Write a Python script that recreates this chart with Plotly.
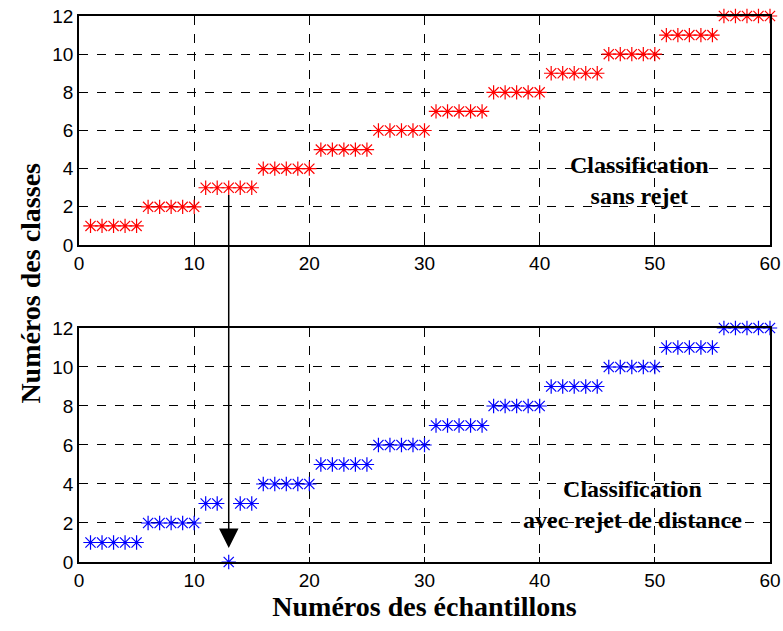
import plotly.graph_objects as go
from plotly.subplots import make_subplots

# sample numbers and assigned classes
echantillons = list(range(1, 61))
classes_sans_rejet = [1]*5 + [2]*5 + [3]*5 + [4]*5 + [5]*5 + [6]*5 + \
    [7]*5 + [8]*5 + [9]*5 + [10]*5 + [11]*5 + [12]*5
classes_avec_rejet = [1]*5 + [2]*5 + [3, 3, 0, 3, 3] + [4]*5 + [5]*5 + [6]*5 + \
    [7]*5 + [8]*5 + [9]*5 + [10]*5 + [11]*5 + [12]*5

x_ticks = [0, 10, 20, 30, 40, 50, 60]
y_ticks = [0, 2, 4, 6, 8, 10, 12]

fig = make_subplots(rows=2, cols=1)

fig.add_trace(go.Scatter(x=echantillons, y=classes_sans_rejet, mode='markers',
                         cliponaxis=False,
                         marker=dict(symbol='asterisk-open', size=12, color='#ff0000',
                                     line=dict(color='#ff0000', width=1.2)),
                         showlegend=False), row=1, col=1)
fig.add_trace(go.Scatter(x=echantillons, y=classes_avec_rejet, mode='markers',
                         cliponaxis=False,
                         marker=dict(symbol='asterisk-open', size=12, color='#0000ff',
                                     line=dict(color='#0000ff', width=1.2)),
                         showlegend=False), row=2, col=1)

tick_font = dict(family='Liberation Sans, Arial', size=19, color='black')
axis_style = dict(showline=True, linecolor='black', linewidth=1.5, mirror=True,
                  ticks='inside', ticklen=5, tickcolor='black', automargin=False,
                  showgrid=True, gridcolor='black', griddash='dash', gridwidth=0.8,
                  zeroline=False, tickfont=tick_font)

fig.update_xaxes(range=[0, 60], tickvals=x_ticks, **axis_style)
fig.update_yaxes(range=[0, 12], tickvals=y_ticks, **axis_style)

fig.update_layout(
    width=783, height=631,
    margin=dict(l=79, r=13, t=16, b=69, autoexpand=False),
    plot_bgcolor='white', paper_bgcolor='white',
    xaxis=dict(domain=[0, 1]),
    yaxis=dict(domain=[0.5806, 1]),
    xaxis2=dict(domain=[0, 1]),
    yaxis2=dict(domain=[0, 0.4286]),
)

title_font = dict(family='Liberation Serif, Times New Roman', size=28, color='black')
fig.update_xaxes(title=dict(text='<b>Numéros des échantillons</b>', font=title_font,
                            standoff=2), row=2, col=1)

serif = dict(family='Liberation Serif, Times New Roman', size=24, color='black')
fig.add_annotation(x=48.7, y=3.4, xref='x', yref='y', showarrow=False,
                   text='<b>Classification<br>sans rejet</b>', font=serif)
fig.add_annotation(x=48.1, y=2.97, xref='x2', yref='y2', showarrow=False,
                   text='<b>Classification<br>avec rejet de distance</b>', font=serif)
fig.add_annotation(x=-0.07, y=0.511, xref='paper', yref='paper', showarrow=False,
                   xanchor='center', yanchor='middle',
                   text='<b>Numéros des classes</b>', textangle=-90, font=title_font)

# arrow from the top plot to the rejected sample
fig.add_annotation(x=13, y=0.72, xref='x2', yref='y2', axref='x2', ayref='y2',
                   ax=13, ay=18.9, text='', showarrow=True,
                   arrowhead=2, arrowsize=2.6, arrowwidth=1.5, arrowcolor='black')

# drop the default page margin so the figure fills the window
fig.write_html('out.html', config={'displayModeBar': False},
               post_script="document.body.style.margin='0';")
